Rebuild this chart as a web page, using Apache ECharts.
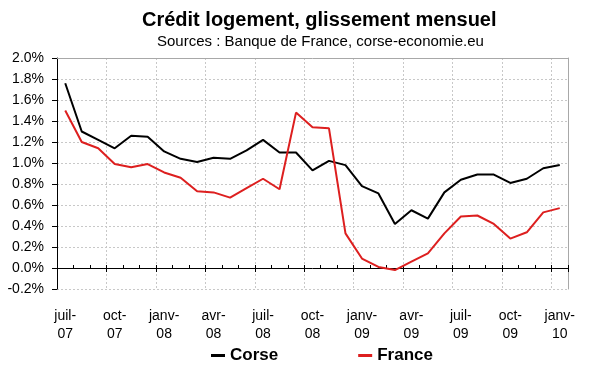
<!DOCTYPE html>
<html>
<head>
<meta charset="utf-8">
<script src="https://cdn.jsdelivr.net/npm/echarts@6/dist/echarts.min.js"></script>
<style>html,body{margin:0;padding:0;background:#fff}#c{width:600px;height:372px}</style>
</head>
<body>
<div id="c"></div>
<script>
const months = ['juil-07','août-07','sept-07','oct-07','nov-07','déc-07',
  'janv-08','févr-08','mars-08','avr-08','mai-08','juin-08',
  'juil-08','août-08','sept-08','oct-08','nov-08','déc-08',
  'janv-09','févr-09','mars-09','avr-09','mai-09','juin-09',
  'juil-09','août-09','sept-09','oct-09','nov-09','déc-09','janv-10'];
const corse = [1.76, 1.30, 1.22, 1.14, 1.26, 1.25, 1.11, 1.04, 1.01, 1.05, 1.04, 1.12,
  1.22, 1.10, 1.10, 0.93, 1.02, 0.98, 0.78, 0.71, 0.42, 0.55, 0.47, 0.72,
  0.84, 0.89, 0.89, 0.81, 0.85, 0.95, 0.98];
const france = [1.50, 1.20, 1.14, 0.99, 0.96, 0.99, 0.91, 0.86, 0.73, 0.72, 0.67, 0.76,
  0.85, 0.75, 1.48, 1.34, 1.33, 0.33, 0.09, 0.01, -0.02, 0.06, 0.14, 0.33,
  0.49, 0.50, 0.42, 0.28, 0.34, 0.53, 0.57];
const yMin = -0.2, yMax = 2.0, yStep = 0.2;
const titleText = 'Crédit logement, glissement mensuel';
const subText = 'Sources : Banque de France, corse-economie.eu';

const FONT = "'Liberation Sans', Arial, sans-serif";
const chart = echarts.init(document.getElementById('c'), null, {renderer: 'canvas'});
chart.setOption({
  backgroundColor: '#fff',
  animation: false,
  title: [
    {text: titleText, left: 142, top: 10, padding: 0,
     textStyle: {fontFamily: FONT, fontSize: 20, fontWeight: 'bold', color: '#000'}},
    {text: subText, left: 157, top: 34, padding: 0,
     textStyle: {fontFamily: FONT, fontSize: 15, fontWeight: 'normal', color: '#000'}}
  ],
  legend: {
    left: 206, top: 342, itemWidth: 14, itemHeight: 3, itemGap: 80,
    icon: 'rect',
    data: [
      {name: 'Corse', itemStyle: {color: '#000'}},
      {name: 'France', itemStyle: {color: '#dd1f1f'}}
    ],
    textStyle: {fontFamily: FONT, fontSize: 17, fontWeight: 'bold', color: '#000'}
  },
  grid: {left: 57, right: 32, top: 58, bottom: 83, containLabel: false},
  xAxis: [
    {type: 'category', data: months, position: 'bottom', boundaryGap: true,
     axisLine: {onZero: true, onZeroAxisIndex: 0, lineStyle: {color: '#000', width: 1}},
     axisTick: {show: true, interval: 2, length: 4, inside: false, lineStyle: {color: '#000'}},
     axisLabel: {interval: 2, margin: 18, fontFamily: FONT, fontSize: 14, color: '#000', lineHeight: 18,
       formatter: v => v.replace('-', '-\n')},
     splitLine: {show: true, interval: 2, lineStyle: {color: '#c8c8c8', type: [2, 2], width: 1}}},
    {type: 'category', data: months, position: 'bottom', boundaryGap: true,
     axisLine: {show: false, onZero: true, onZeroAxisIndex: 1},
     axisTick: {show: true, interval: 0, length: 3, inside: true, lineStyle: {color: '#000'}},
     axisLabel: {show: false}, splitLine: {show: false}},
    {type: 'category', data: months, position: 'top', boundaryGap: true,
     axisLine: {show: true, onZero: false, lineStyle: {color: '#a8a8a8'}},
     axisTick: {show: false}, axisLabel: {show: false}, splitLine: {show: false}}
  ],
  yAxis: [
    {type: 'value', min: yMin, max: yMax, interval: yStep, position: 'left',
     axisLine: {show: true, onZero: false, lineStyle: {color: '#000'}},
     axisTick: {show: true, length: 5, lineStyle: {color: '#000'}},
     axisLabel: {margin: 13, fontFamily: FONT, fontSize: 14, color: '#000',
       formatter: v => v.toFixed(1) + '%'},
     splitLine: {show: true, lineStyle: {color: '#c8c8c8', type: [2, 2], width: 1}}},
    {type: 'value', min: yMin, max: yMax, interval: yStep, position: 'right',
     axisLine: {show: true, onZero: false, lineStyle: {color: '#a8a8a8'}},
     axisTick: {show: false}, axisLabel: {show: false}, splitLine: {show: false}}
  ],
  series: [
    {name: 'Corse', type: 'line', data: corse, xAxisIndex: 0, yAxisIndex: 0,
     symbol: 'none', lineStyle: {color: '#000', width: 2}, itemStyle: {color: '#000'}},
    {name: 'France', type: 'line', data: france, xAxisIndex: 0, yAxisIndex: 0,
     symbol: 'none', lineStyle: {color: '#dd1f1f', width: 2}, itemStyle: {color: '#dd1f1f'}}
  ]
});
</script>
</body>
</html>
